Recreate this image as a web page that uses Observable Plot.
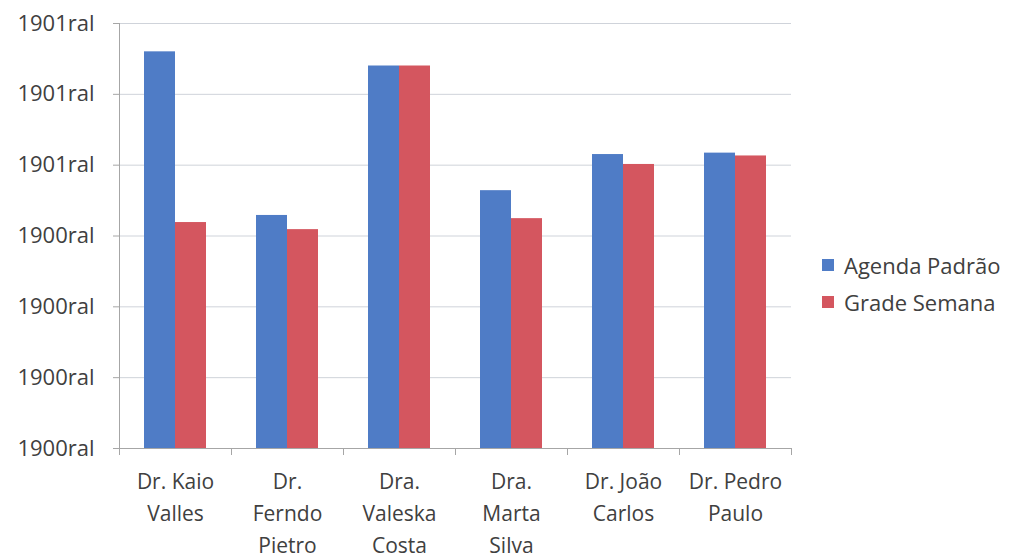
<!DOCTYPE html>
<html>
<head>
<meta charset="utf-8">
<script src="https://cdn.jsdelivr.net/npm/d3@7"></script>
<script src="https://cdn.jsdelivr.net/npm/@observablehq/plot@0.6"></script>
<style>
  body { margin: 0; background: #fff; }
  #wrap { position: relative; width: 1013px; height: 558px; font-family: "Open Sans", sans-serif; }
  #legend { position: absolute; left: 822px; top: 246px; font-size: 22px; color: #404040; }
  .item { display: flex; align-items: center; height: 37px; }
  .sw { width: 12px; height: 12px; margin-right: 10px; }
</style>
</head>
<body>
<div id="wrap"><div id="legend"></div></div>
<script>
const categories = ["Dr. Kaio\nValles", "Dr.\nFerndo\nPietro", "Dra.\nValeska\nCosta", "Dra.\nMarta\nSilva", "Dr. João\nCarlos", "Dr. Pedro\nPaulo"];
const series = ["Agenda Padrão", "Grade Semana"];
const agendaPadrao = [5.60, 3.29, 5.40, 3.64, 4.15, 4.17];
const gradeSemana = [3.19, 3.09, 5.40, 3.245, 4.01, 4.13];
const yTickValues = [0, 1, 2, 3, 4, 5, 6];
const yTickLabels = ["1900ral", "1900ral", "1900ral", "1900ral", "1901ral", "1901ral", "1901ral"];
const colors = ["#4f7cc6", "#d4565f"];

const data = [];
categories.forEach((c, i) => {
  data.push({cat: c, series: series[0], value: agendaPadrao[i]});
  data.push({cat: c, series: series[1], value: gradeSemana[i]});
});

const chart = Plot.plot({
  width: 1013,
  height: 558,
  marginLeft: 117,
  marginRight: 220,
  marginTop: 23,
  marginBottom: 110,
  style: {fontFamily: "'Open Sans', sans-serif", background: "#fff"},
  fx: {domain: categories, padding: 0},
  x: {domain: series, paddingInner: 0, paddingOuter: 0.76, axis: null},
  y: {domain: [0, 6]},
  color: {domain: series, range: colors},
  marks: [
    Plot.gridY(yTickValues, {stroke: "#cfd3da", strokeOpacity: 1}),
    Plot.barY(data, {fx: "cat", x: "series", y: "value", fill: "series"}),
    Plot.frame({anchor: "bottom", stroke: "#a6a6a6"}),
    Plot.frame({anchor: "left", stroke: "#a6a6a6", facetAnchor: "left"}),
    Plot.frame({anchor: "left", stroke: "#a6a6a6", insetTop: 425, insetBottom: -6}),
    Plot.frame({anchor: "right", stroke: "#a6a6a6", insetTop: 425, insetBottom: -6, facetAnchor: "right"}),
    Plot.axisY(yTickValues, {
      tickSize: 6, tickPadding: 19, stroke: "#a6a6a6", fill: "#404040",
      fontSize: 22, label: null,
      tickFormat: (d, i) => yTickLabels[i]
    }),
    Plot.axisFx({
      anchor: "bottom", tickSize: 0, tickPadding: 18, fill: "#404040",
      fontSize: 21, lineHeight: 1.52, label: null
    })
  ]
});
const wrap = document.getElementById("wrap");
wrap.insertBefore(chart, wrap.firstChild);

const legend = document.getElementById("legend");
series.forEach((s, i) => {
  const item = document.createElement("div");
  item.className = "item";
  const sw = document.createElement("div");
  sw.className = "sw";
  sw.style.background = colors[i];
  const t = document.createElement("span");
  t.textContent = s;
  item.appendChild(sw);
  item.appendChild(t);
  legend.appendChild(item);
});
</script>
</body>
</html>
